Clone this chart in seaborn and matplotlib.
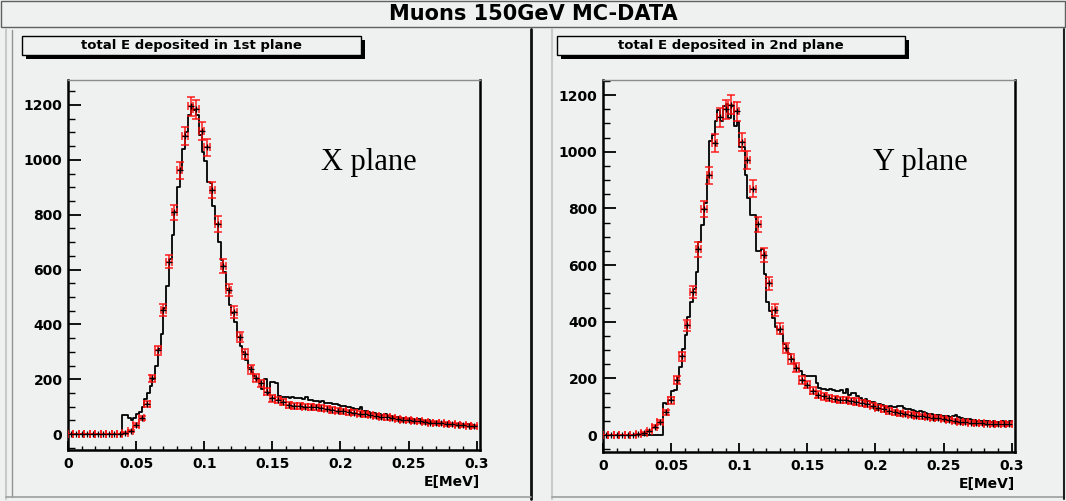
import numpy as np
import matplotlib
matplotlib.use("Agg")
import matplotlib.pyplot as plt
import seaborn as sns
from matplotlib.patches import Rectangle
from matplotlib.lines import Line2D
from matplotlib.ticker import FixedLocator, MultipleLocator

# ---- data ----
# data points: 75 bins of 0.004 MeV, centres 0.002 ... 0.298
data_x = [0.002 + 0.004 * i for i in range(75)]
data_x_plane = [0, 0, 0, 0, 0, 0, 0, 0, 0, 1, 4, 12, 33, 60, 110, 203, 305, 453, 629, 808,
                962, 1088, 1195, 1185, 1105, 1045, 890, 766, 612, 526, 446, 354, 292, 236, 206,
                185, 154, 130, 124, 118, 105, 102, 102, 100, 98, 97, 95, 92, 88, 86,
                84, 80, 78, 75, 72, 70, 66, 63, 61, 58, 55, 53, 51, 48, 46,
                45, 42, 40, 39, 37, 35, 34, 32, 30, 29]
data_y_plane = [0, 0, 0, 0, 0, 0, 2, 8, 15, 30, 47, 81, 122, 193, 278, 387, 505, 655, 796, 917,
                1030, 1121, 1150, 1166, 1143, 1034, 971, 870, 743, 636, 535, 440, 375, 306, 268,
                238, 195, 178, 157, 142, 136, 130, 127, 124, 124, 121, 118, 114, 110, 104,
                97, 92, 85, 81, 77, 74, 71, 68, 66, 63, 61, 59, 56, 53, 50,
                47, 46, 44, 42, 41, 40, 39, 39, 38, 39]

# MC histogram: 150 bins of 0.002 MeV
mc_edges = [0.002 * k for k in range(151)]
mc_x = [0.001 + 0.002 * k for k in range(150)]
mc_x_plane = [0] * 20 + [69, 69, 60, 52, 58, 72, 80, 98, 128, 150,
              175, 200, 250, 310, 365, 460, 540, 640, 725, 810,
              900, 965, 1040, 1100, 1165, 1200, 1180, 1165, 1090, 1030,
              994, 919, 915, 830, 767, 702, 635, 592, 530, 470,
              440, 410, 355, 320, 300, 270, 240, 225, 210, 200,
              190, 165, 200, 150, 190, 190, 188, 140, 136, 136,
              135, 133, 136, 132, 130, 131, 128, 134, 125, 124,
              122, 119, 118, 120, 115, 113, 115, 110, 108, 106,
              104, 102, 99, 97, 95, 93, 90, 100, 86, 83,
              80, 78, 76, 74, 72, 70, 72, 67, 65, 63,
              62, 64, 60, 58, 56, 55, 54, 52, 56, 50,
              48, 47, 50, 45, 44, 43, 42, 41, 40, 39,
              38, 37, 38, 36, 35, 34, 35, 33, 32, 31]
mc_y_plane = [0] * 22 + [112, 108, 122, 156, 160, 204, 240, 302,
              352, 418, 470, 517, 574, 680, 740, 820, 912, 1036,
              1060, 1110, 1148, 1110, 1160, 1168, 1120, 1160, 1090, 1103,
              1018, 1018, 917, 835, 775, 775, 651, 651, 657, 568,
              468, 438, 414, 380, 370, 355, 320, 300, 285, 270,
              250, 238, 225, 212, 207, 207, 210, 210, 185, 166,
              164, 162, 160, 162, 158, 156, 155, 160, 150, 162,
              140, 150, 148, 138, 130, 125, 128, 120, 118, 115,
              88, 108, 106, 104, 100, 102, 100, 98, 101, 103,
              96, 92, 93, 88, 85, 82, 85, 80, 77, 75,
              74, 72, 72, 70, 68, 67, 66, 64, 66, 72,
              64, 60, 58, 57, 55, 54, 52, 51, 50, 49,
              50, 48, 47, 48, 47, 46, 48, 46, 47, 50]

x_ticks = [0, 0.05, 0.1, 0.15, 0.2, 0.25, 0.3]
x_tick_labels = ["0", "0.05", "0.1", "0.15", "0.2", "0.25", "0.3"]
y_ticks = [0, 200, 400, 600, 800, 1000, 1200]

fig_title = "Muons 150GeV MC-DATA"
pad_titles = ["total E deposited in 1st plane", "total E deposited in 2nd plane"]
plane_labels = ["X plane", "Y plane"]

W, H = 1066, 501
BG = "#eef1f0"

sns.set_theme(style="ticks")
plt.rcParams["font.family"] = ["DejaVu Sans"]
plt.rcParams.update({"text.color": "black", "axes.labelcolor": "black",
                     "xtick.color": "black", "ytick.color": "black"})

fig = plt.figure(figsize=(W / 100, H / 100), dpi=100, facecolor=BG)


def rect(x0, y0, x1, y1, **kw):
    # pixel box (top-left origin) -> figure fraction rectangle
    fig.add_artist(Rectangle((x0 / W, 1 - y1 / H), (x1 - x0) / W, (y1 - y0) / H,
                             transform=fig.transFigure, **kw))


def line(x0, y0, x1, y1, **kw):
    fig.add_artist(Line2D([x0 / W, x1 / W], [1 - y0 / H, 1 - y1 / H],
                          transform=fig.transFigure, **kw))


# canvas title bar
rect(1, 1, 1065, 27, facecolor=BG, edgecolor="#606060", lw=1)
fig.text(533 / W, 1 - 14 / H, fig_title, ha="center", va="center",
         fontsize=15, fontweight="bold", color="black")

# pad borders
line(6, 29, 6, 499, color="#c6cbca", lw=1.5)
line(12, 30, 12, 497, color="#8f9594", lw=1.0)
line(531, 29, 531, 499, color="#101010", lw=2)
line(552, 29, 552, 499, color="#c6cbca", lw=1.5)
line(6, 497, 531, 497, color="#9aa09f", lw=1.2)
line(552, 497, 1064, 497, color="#9aa09f", lw=1.2)
line(1064, 29, 1064, 499, color="#202020", lw=1.5)

axes_px = [(68, 80, 480, 450, (-58, 1291)), (603, 80, 1015, 452, (-60, 1253))]
box_px = [(22, 36, 361, 55), (557, 36, 905, 55)]
series = [(data_x_plane, mc_x_plane), (data_y_plane, mc_y_plane)]

for i, ((x0, y0, x1, y1, ylim), (bx0, by0, bx1, by1), (dvals, mvals)) in enumerate(
        zip(axes_px, box_px, series)):
    # pad title box with shadow
    rect(bx0 + 4, by0 + 4, bx1 + 4, by1 + 4, facecolor="black", edgecolor="none")
    rect(bx0, by0, bx1, by1, facecolor=BG, edgecolor="black", lw=1)
    fig.text((bx0 + bx1) / 2 / W, 1 - (by0 + by1) / 2 / H, pad_titles[i],
             ha="center", va="center", fontsize=9.5, fontweight="bold")

    ax = fig.add_axes([x0 / W, 1 - y1 / H, (x1 - x0) / W, (y1 - y0) / H])
    ax.set_facecolor(BG)

    sns.histplot(x=mc_x, weights=mvals, bins=mc_edges, element="step", fill=False,
                 color="black", linewidth=1.3, ax=ax)

    dv = np.array(dvals, dtype=float)
    ax.errorbar(data_x, dv, xerr=0.002, yerr=np.sqrt(dv), fmt="none",
                ecolor="#ff1010", elinewidth=1.15, capsize=2.8, capthick=1.15,
                alpha=0.9, zorder=3)
    sns.scatterplot(x=data_x, y=dv, marker="+", color="black", s=14,
                    linewidth=0.9, ax=ax, zorder=4)

    ax.set_xlim(0, 0.3024)
    ax.set_ylim(*ylim)
    ax.xaxis.set_major_locator(FixedLocator(x_ticks))
    ax.set_xticklabels(x_tick_labels)
    ax.xaxis.set_minor_locator(MultipleLocator(0.01))
    ax.yaxis.set_major_locator(FixedLocator(y_ticks))
    ax.yaxis.set_minor_locator(MultipleLocator(50))
    ax.tick_params(axis="y", which="major", direction="in", length=9, width=1.3,
                   labelsize=10, pad=4, right=False)
    ax.tick_params(axis="y", which="minor", direction="in", length=5, width=1.0, right=False)
    ax.tick_params(axis="x", which="major", direction="in", length=6.5, width=1.3,
                   labelsize=10, pad=5, top=False)
    ax.tick_params(axis="x", which="minor", direction="in", length=3, width=1.0, top=False)
    for lab in ax.get_xticklabels() + ax.get_yticklabels():
        lab.set_fontweight("bold")

    ax.set_ylabel("")
    ax.set_xlabel("E[MeV]", loc="right", fontsize=10, fontweight="bold", labelpad=3)

    for side in ["left", "bottom", "right"]:
        ax.spines[side].set_color("black")
        ax.spines[side].set_linewidth(1.8)
    ax.spines["top"].set_color("#8c8c8c")
    ax.spines["top"].set_linewidth(1.0)

    ax.text(0.615 if i == 0 else 0.655, 0.757, plane_labels[i], transform=ax.transAxes,
            fontsize=22, family="Liberation Serif", ha="left", va="baseline")

fig.savefig("out.png", dpi=100, facecolor=BG)
